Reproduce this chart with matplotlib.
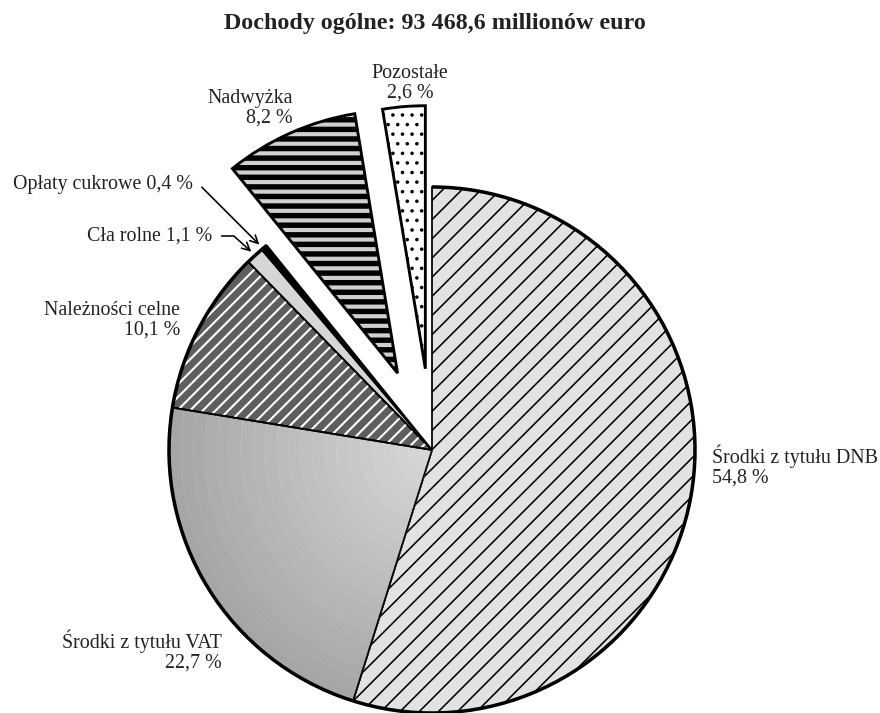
import numpy as np
import matplotlib
matplotlib.use("Agg")
import matplotlib.pyplot as plt
from matplotlib.patches import Wedge, Arc

# data
title = "Dochody ogólne: 93 468,6 millionów euro"
labels = ["Środki z tytułu DNB", "Środki z tytułu VAT", "Należności celne",
          "Cła rolne", "Opłaty cukrowe", "Nadwyżka", "Pozostałe"]
shares = [54.8, 22.7, 10.1, 1.1, 0.4, 8.2, 2.6]
share_txt = ["54,8 %", "22,7 %", "10,1 %", "1,1 %", "0,4 %", "8,2 %", "2,6 %"]
explode = [0, 0, 0, 0, 0, 0.32, 0.31]   # fraction of radius

DPI = 115
W, H = 880, 713
plt.rcParams['font.family'] = ['Liberation Serif', 'DejaVu Serif']

fig = plt.figure(figsize=(W / DPI, H / DPI), dpi=DPI)
ax = fig.add_axes([0, 0, 1, 1])


def px(x, y):
    # picture pixel -> data coords
    return x, H - y


def hatch_width(patch, lw):
    # per-patch hatch line width (works whether or not the setter exists)
    if hasattr(patch, "set_hatch_linewidth"):
        patch.set_hatch_linewidth(lw)
    orig = patch.draw

    def draw(renderer):
        with plt.rc_context({"hatch.linewidth": lw}):
            orig(renderer)
    patch.draw = draw


cx, cy = px(432, 450)
R = 263
fills = ["#e2e2e2", "#b8b8b8", "#5e5e5e", "#d6d6d6", "black", "#d0d0d0", "white"]
hatches = ["//", None, None, None, None, "--", ".."]
hatch_lw = [1.0, 0, 0, 0, 0, 3.4, 1.0]

# pie() takes explode in data units when radius != 1
wedges, _ = ax.pie(shares, explode=[e * R for e in explode], startangle=90,
                   counterclock=False, center=(cx, cy), radius=R, colors=fills,
                   wedgeprops=dict(edgecolor="black", linewidth=1.1))
for w, h, hl in zip(wedges, hatches, hatch_lw):
    w.set_zorder(1)
    if h:
        w.set_hatch(h)
        hatch_width(w, hl)
for w in wedges[5:]:
    w.set_linewidth(1.8)

# VAT slice: radial grey gradient with faint rings
vat = wedges[1]
n = 22
for i in range(n):
    t = i / (n - 1)
    r = vat.r * (1 - i / n)
    g = 0.65 + 0.19 * t
    ax.add_patch(Wedge(vat.center, r, vat.theta1, vat.theta2,
                       facecolor=(g, g, g), edgecolor=(g + 0.03, g + 0.03, g + 0.03),
                       linewidth=0.5, zorder=1.2))
ax.add_patch(Wedge(vat.center, vat.r, vat.theta1, vat.theta2, fill=False,
                   edgecolor="black", linewidth=1.1, zorder=1.5))

# Należności celne: white diagonal hatch on dark grey
nal = wedges[2]
ov = Wedge(nal.center, nal.r, nal.theta1, nal.theta2, fill=False,
           edgecolor="white", linewidth=0, hatch="///", zorder=1.3)
hatch_width(ov, 1.3)
ax.add_patch(ov)
ax.add_patch(Wedge(nal.center, nal.r, nal.theta1, nal.theta2, fill=False,
                   edgecolor="black", linewidth=1.1, zorder=1.5))

# thicker outer rim of the main pie
ax.add_patch(Arc((cx, cy), 2 * R, 2 * R, theta1=wedges[4].theta1,
                 theta2=wedges[0].theta2, color="black", linewidth=2.2, zorder=2))

ax.set_xlim(0, W)
ax.set_ylim(0, H)
ax.set_aspect("equal")
ax.axis("off")

fs = 12.5
ax.text(*px(435, 24), title, ha="center", va="center", fontsize=15.0,
        fontweight="bold", color="#222222")

ax.text(*px(712, 466), labels[0] + "\n" + share_txt[0], ha="left", va="center",
        fontsize=fs, linespacing=1.05, color="#222222")
ax.text(*px(222, 651), labels[1] + "\n" + share_txt[1], ha="right", va="center",
        fontsize=fs, linespacing=1.05, color="#222222")
ax.text(*px(180, 320), labels[2] + "\n" + share_txt[2], ha="right", va="center",
        fontsize=fs, linespacing=1.05, color="#222222")
ax.text(*px(293, 108), labels[5] + "\n" + share_txt[5], ha="right", va="center",
        fontsize=fs, linespacing=1.05, color="#222222")
ax.text(*px(410, 83), labels[6] + "\n" + share_txt[6], ha="center", va="center",
        fontsize=fs, linespacing=1.05, multialignment="center", color="#222222")


def rim_point(w, ang, k=1.0):
    a = np.deg2rad(ang)
    return w.center[0] + k * w.r * np.cos(a), w.center[1] + k * w.r * np.sin(a)


cla = wedges[3]
opl = wedges[4]
ax.annotate(labels[3] + " " + share_txt[3], xy=rim_point(cla, (cla.theta1 + cla.theta2) / 2, 1.02),
            xytext=px(212, 236), ha="right", va="center", fontsize=fs, color="#222222",
            arrowprops=dict(arrowstyle="->", color="black", lw=1.0, relpos=(1, 0.5),
                            shrinkA=4, shrinkB=0,
                            connectionstyle="angle,angleA=0,angleB=-42,rad=0"))
ax.annotate(labels[4] + " " + share_txt[4], xy=rim_point(opl, opl.theta2 - 0.3, 1.02),
            xytext=px(193, 184), ha="right", va="center", fontsize=fs, color="#222222",
            arrowprops=dict(arrowstyle="->", color="black", lw=1.0, relpos=(1, 0.5),
                            shrinkA=4, shrinkB=0,
                            connectionstyle="angle,angleA=0,angleB=-45,rad=0"))

fig.savefig("out.png", dpi=DPI)
